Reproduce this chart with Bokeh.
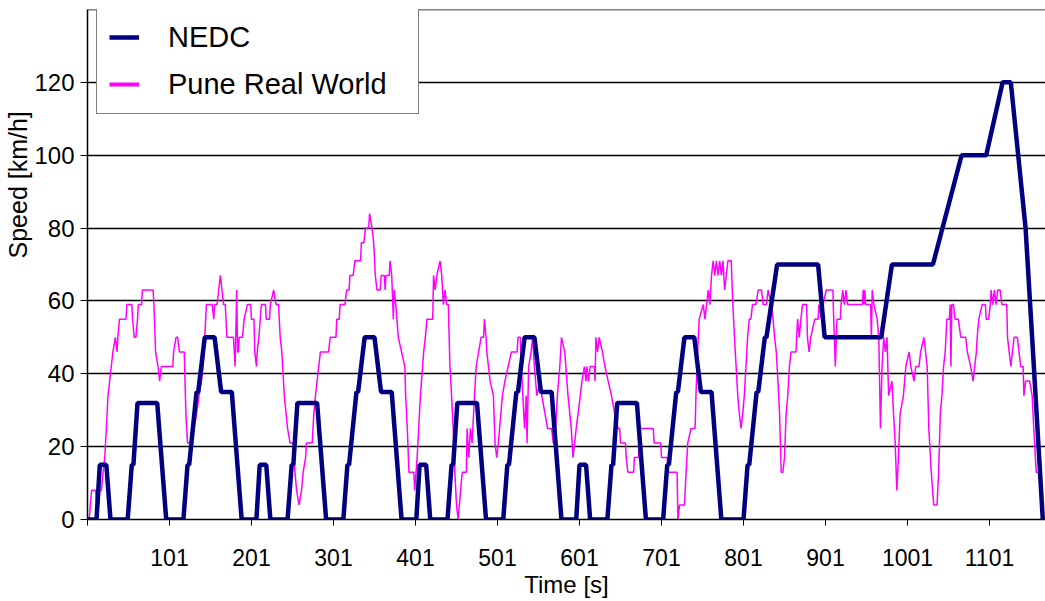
from bokeh.plotting import figure
from bokeh.models import Range1d, FixedTicker, Legend, LegendItem, Span, Title
from bokeh.embed import file_html
from bokeh.resources import INLINE

# ---------------- data ----------------
nedc_t = [1, 12, 16, 24, 29, 50, 55, 57, 62, 86, 97, 118, 123, 125, 134, 136, 144, 156, 164, 177, 189, 196,
          207, 211, 219, 224, 245, 250, 252, 257, 281, 292, 313, 318, 320, 329, 331, 339, 351, 359, 372, 384, 391,
          402, 406, 414, 419, 440, 445, 447, 452, 476, 487, 508, 513, 515, 524, 526, 534, 546, 554, 567, 579, 586,
          597, 601, 609, 614, 635, 640, 642, 647, 671, 682, 703, 708, 710, 719, 721, 729, 741, 749, 762, 774, 781,
          801, 806, 808, 817, 819, 827, 829, 842, 892, 900, 969, 982, 1032, 1067, 1097, 1117, 1127, 1145, 1153, 1166, 1181]
nedc_v = [0, 0, 15, 15, 0, 0, 15, 15, 32, 32, 0, 0, 15, 15, 35, 35, 50, 50, 35, 35, 0, 0,
          0, 15, 15, 0, 0, 15, 15, 32, 32, 0, 0, 15, 15, 35, 35, 50, 50, 35, 35, 0, 0,
          0, 15, 15, 0, 0, 15, 15, 32, 32, 0, 0, 15, 15, 35, 35, 50, 50, 35, 35, 0, 0,
          0, 15, 15, 0, 0, 15, 15, 32, 32, 0, 0, 15, 15, 35, 35, 50, 50, 35, 35, 0, 0,
          0, 15, 15, 35, 35, 50, 50, 70, 70, 50, 50, 70, 70, 100, 100, 120, 120, 80, 50, 0, 0]

pune_t = [1, 3, 6, 11, 12, 15, 16, 18, 20, 22, 24, 26, 28, 30, 32, 35, 37, 38, 40, 48, 49, 55, 56, 58, 60, 62,
          63, 67, 68, 81, 82, 84, 87, 89, 91, 105, 106, 109, 111, 113, 119, 121, 123, 128, 131, 134, 137, 140,
          142, 144, 146, 153, 155, 156, 159, 161, 163, 165, 167, 169, 171, 179, 181, 183, 184, 185, 186, 190,
          192, 196, 200, 201, 204, 205, 207, 208, 210, 213, 218, 219, 223, 224, 228, 231, 234, 236, 238, 241,
          245, 248, 252, 254, 256, 259, 262, 264, 267, 268, 275, 277, 279, 283, 285, 295, 297, 304, 305, 308,
          309, 315, 317, 320, 321, 325, 327, 334, 335, 338, 340, 344, 345, 348, 350, 352, 354, 358, 359, 363,
          364, 365, 369, 370, 372, 374, 375, 377, 380, 384, 388, 389, 391, 393, 399, 400, 403, 407, 411, 413,
          415, 422, 423, 425, 427, 431, 433, 435, 437, 439, 441, 443, 445, 447, 449, 451, 453, 456, 458, 463,
          464, 466, 468, 470, 473, 475, 478, 481, 484, 485, 487, 488, 490, 492, 496, 498, 500, 502, 507, 510,
          514, 518, 525, 526, 529, 530, 534, 536, 537, 539, 542, 544, 546, 549, 553, 555, 559, 562, 567, 569,
          571, 574, 577, 579, 583, 587, 591, 593, 597, 602, 604, 607, 609, 610, 612, 614, 619, 620, 621, 623,
          625, 629, 632, 636, 640, 644, 648, 650, 651, 657, 658, 660, 667, 668, 673, 674, 691, 692, 700, 701,
          708, 709, 720, 721, 723, 729, 731, 733, 737, 742, 743, 745, 747, 752, 754, 756, 758, 760, 762, 764,
          766, 768, 770, 772, 774, 776, 778, 780, 782, 786, 788, 790, 792, 794, 796, 798, 800, 802, 804, 806,
          808, 810, 812, 816, 819, 823, 825, 829, 831, 835, 837, 839, 841, 843, 845, 847, 849, 851, 853, 855,
          857, 859, 865, 867, 869, 871, 873, 878, 879, 881, 883, 888, 892, 893, 896, 898, 902, 910, 911, 913,
          915, 919, 920, 922, 924, 926, 928, 946, 947, 948, 949, 950, 956, 957, 958, 960, 964, 966, 968, 970,
          972, 974, 976, 978, 982, 984, 986, 988, 990, 992, 996, 999, 1003, 1005, 1009, 1011, 1015, 1017, 1021,
          1023, 1025, 1027, 1030, 1033, 1037, 1039, 1041, 1043, 1045, 1047, 1049, 1052, 1053, 1054, 1055, 1057,
          1059, 1063, 1066, 1072, 1074, 1078, 1081, 1083, 1085, 1086, 1088, 1092, 1096, 1097, 1100, 1102, 1103,
          1105, 1107, 1109, 1111, 1114, 1116, 1122, 1123, 1125, 1127, 1129, 1131, 1135, 1137, 1139, 1142, 1143,
          1145, 1150, 1153, 1155, 1158, 1162, 1165]
pune_v = [0, 0, 8, 8, 4, 4, 8, 8, 13, 17, 25, 34, 38, 42, 46, 50, 46, 50, 55, 55, 59, 59, 55, 50, 50, 55,
          59, 59, 63, 63, 59, 46, 42, 38, 42, 42, 46, 50, 50, 46, 46, 29, 21, 21, 25, 29, 34, 38,
          42, 50, 59, 59, 55, 59, 59, 63, 67, 63, 59, 59, 50, 50, 42, 63, 46, 46, 50, 50,
          55, 59, 59, 55, 55, 46, 42, 46, 50, 59, 59, 55, 55, 59, 63, 59, 59, 50, 46, 34,
          25, 21, 21, 13, 8, 4, 8, 13, 17, 21, 21, 29, 34, 42, 46, 46, 50, 50, 55, 55,
          59, 59, 63, 63, 67, 67, 71, 71, 76, 76, 80, 80, 84, 80, 76, 67, 63, 63, 67, 67,
          63, 67, 67, 71, 67, 55, 63, 59, 50, 46, 42, 34, 25, 13, 13, 8, 17, 34, 46, 50,
          55, 55, 67, 63, 67, 71, 67, 59, 63, 59, 59, 42, 34, 25, 13, 4, 0, 8, 13, 13,
          25, 17, 25, 21, 34, 42, 46, 50, 50, 55, 50, 46, 42, 38, 34, 21, 17, 21, 34, 38,
          42, 46, 46, 50, 50, 42, 25, 34, 21, 42, 46, 50, 42, 34, 38, 34, 29, 25, 25, 21,
          21, 34, 42, 50, 46, 34, 25, 17, 25, 34, 38, 42, 38, 42, 38, 42, 42, 38, 50, 46,
          50, 46, 42, 38, 34, 29, 25, 25, 21, 21, 17, 13, 13, 17, 17, 25, 25, 21, 21, 17,
          17, 13, 13, 0, 4, 4, 13, 21, 25, 25, 34, 46, 55, 59, 55, 59, 63, 59, 67, 71,
          67, 71, 67, 71, 67, 71, 63, 67, 71, 71, 59, 50, 42, 34, 29, 25, 29, 34, 42, 50,
          55, 55, 59, 59, 63, 63, 59, 59, 63, 59, 55, 50, 46, 38, 29, 13, 13, 17, 29, 34,
          42, 46, 46, 55, 50, 55, 59, 59, 50, 46, 50, 55, 55, 59, 55, 59, 63, 63, 55, 42,
          55, 55, 59, 63, 59, 63, 59, 59, 63, 59, 63, 59, 59, 50, 63, 59, 55, 50, 25, 42,
          50, 46, 50, 34, 38, 29, 21, 8, 17, 29, 34, 42, 46, 42, 38, 42, 42, 46, 50,
          46, 42, 25, 13, 4, 4, 13, 29, 34, 42, 46, 55, 55, 59, 42, 59, 59,
          55, 55, 50, 50, 46, 42, 38, 42, 46, 50, 55, 59, 59, 55, 55, 59, 63,
          59, 63, 59, 63, 63, 59, 59, 50, 46, 42, 46, 50, 50, 46, 42, 42, 34,
          38, 38, 34, 25, 13, 13, 0]

x_ticks = [1, 101, 201, 301, 401, 501, 601, 701, 801, 901, 1001, 1101]
x_tick_labels = ["", "101", "201", "301", "401", "501", "601", "701", "801", "901", "1001", "1101"]
y_ticks = [0, 20, 40, 60, 80, 100, 120]
y_grid = [20, 40, 60, 80, 100, 120]

FONT = "Liberation Sans"
NAVY = "#000080"
MAGENTA = "#FF00FF"

# ---------------- figure ----------------
p = figure(width=1045, height=601, output_backend="svg", toolbar_location=None,
           x_range=Range1d(1, 1169.3), y_range=Range1d(0, 140),
           min_border_left=87, min_border_right=0, min_border_top=9, min_border_bottom=82)
p.outline_line_color = None
p.background_fill_color = "white"
p.border_fill_color = "white"

p.xgrid.visible = False
p.ygrid.ticker = FixedTicker(ticks=y_grid)
p.ygrid.grid_line_color = "black"
p.ygrid.grid_line_width = 1.3

p.add_layout(Span(location=140, dimension="width", line_color="black", line_width=1.5))

r_pune = p.line(pune_t, pune_v, line_color=MAGENTA, line_width=1.5)
r_nedc = p.line(nedc_t, nedc_v, line_color=NAVY, line_width=4.5)
# single-point renderer: only provides a thick magenta swatch for the legend
r_pune_leg = p.line(pune_t[:1], pune_v[:1], line_color=MAGENTA, line_width=4)

# axes
p.xaxis.ticker = FixedTicker(ticks=x_ticks)
p.xaxis.major_label_overrides = {t: lab for t, lab in zip(x_ticks, x_tick_labels)}
p.xaxis.major_label_text_font = FONT
p.xaxis.major_label_text_font_size = "23px"
p.xaxis.major_label_text_color = "black"
p.xaxis.major_label_standoff = 23
p.xaxis.major_tick_out = 6
p.xaxis.major_tick_in = 0
p.xaxis.minor_tick_out = 0
p.xaxis.minor_tick_in = 0
p.xaxis.axis_line_width = 1.5
p.xaxis.axis_line_color = "black"
p.xaxis.major_tick_line_color = "black"
p.xaxis.axis_label = "Time [s]"
p.xaxis.axis_label_text_font = FONT
p.xaxis.axis_label_text_font_size = "24px"
p.xaxis.axis_label_text_font_style = "normal"
p.xaxis.axis_label_text_color = "black"
p.xaxis.axis_label_text_line_height = 0.6
p.xaxis.axis_label_standoff = 2

p.yaxis.ticker = FixedTicker(ticks=y_ticks)
p.yaxis.major_label_text_font = FONT
p.yaxis.major_label_text_font_size = "24px"
p.yaxis.major_label_text_color = "black"
p.yaxis.major_label_standoff = 6
p.yaxis.major_tick_out = 7
p.yaxis.major_tick_in = 0
p.yaxis.minor_tick_out = 0
p.yaxis.minor_tick_in = 0
p.yaxis.axis_line_width = 1.5
p.yaxis.axis_line_color = "black"
p.yaxis.major_tick_line_color = "black"

# y-axis title in the left panel, starting at the same height as in the original
p.add_layout(Title(text="Speed [km/h]", align="left", offset=261, standoff=0,
                   text_font=FONT, text_font_size="25px", text_font_style="normal",
                   text_color="black"), "left")

legend = Legend(items=[LegendItem(label="NEDC", renderers=[r_nedc]),
                       LegendItem(label="Pune Real World", renderers=[r_pune_leg])],
                location=(9, 405), orientation="vertical")
legend.label_text_font = FONT
legend.label_text_font_size = "29px"
legend.label_text_color = "black"
legend.padding = 12
legend.spacing = 13
legend.margin = 0
legend.glyph_width = 30
legend.glyph_height = 34
legend.label_height = 34
legend.label_width = 238
legend.label_standoff = 29
legend.border_line_color = "black"
legend.border_line_width = 1.5
legend.background_fill_color = "white"
legend.background_fill_alpha = 1.0
p.add_layout(legend)

open("out.html", "w").write(file_html(p, INLINE))
